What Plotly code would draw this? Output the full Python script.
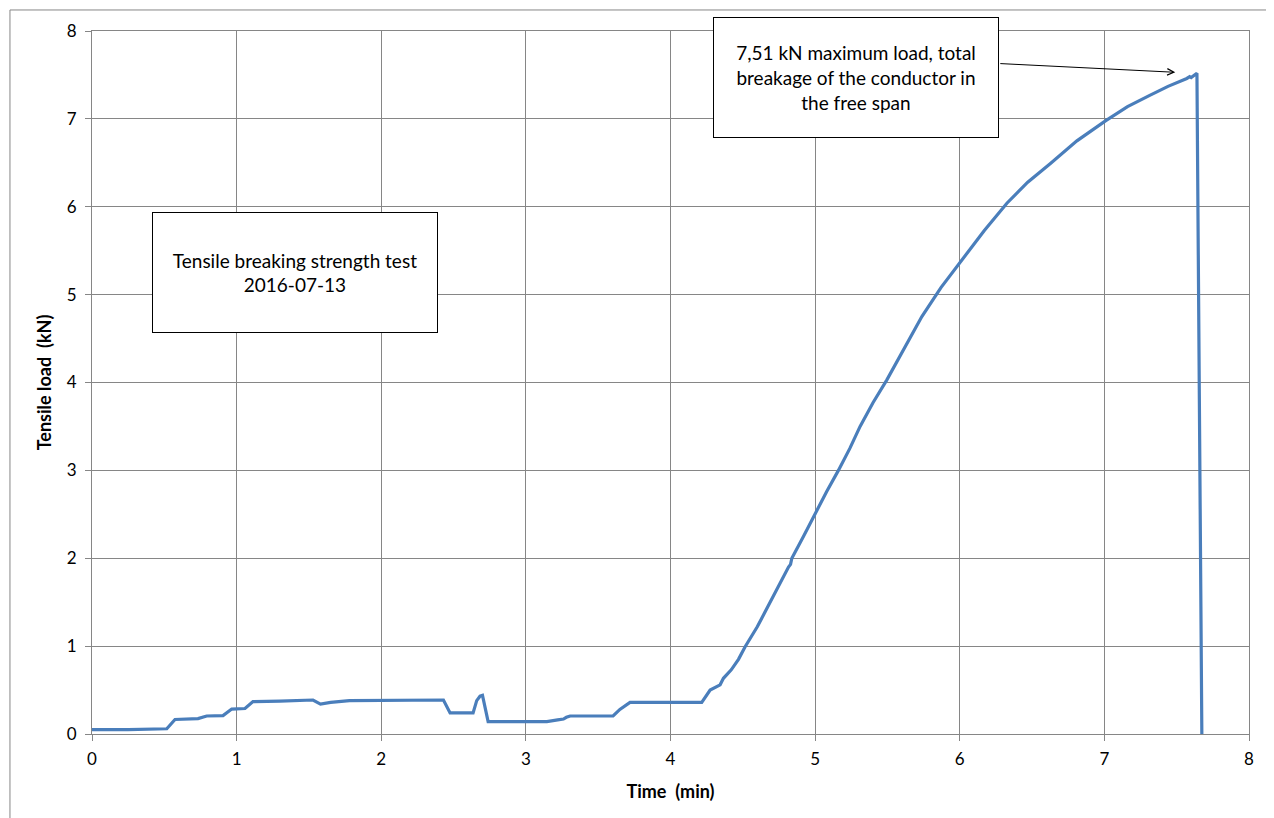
import plotly.graph_objects as go

# Data
time_min = [0, 0.25, 0.517, 0.54, 0.574, 0.733, 0.793, 0.906, 0.966, 1.058, 1.113, 1.3,
            1.528, 1.58, 1.65, 1.78, 2.0, 2.2, 2.43, 2.476, 2.635, 2.66, 2.683, 2.70, 2.72,
            2.739, 3.0, 3.145, 3.22, 3.26, 3.28, 3.306, 3.603, 3.65, 3.72, 4.0, 4.216, 4.274,
            4.343, 4.366, 4.42, 4.47, 4.516, 4.6, 4.689, 4.75, 4.816, 4.83, 4.839, 4.92, 5.0,
            5.08, 5.161, 5.24, 5.311, 5.4, 5.496, 5.62, 5.738, 5.87, 6.01, 6.17, 6.326,
            6.47, 6.625, 6.81, 7.01, 7.16, 7.317, 7.44, 7.57, 7.59, 7.6, 7.64, 7.674]
load_kn = [0.05, 0.05, 0.06, 0.1, 0.165, 0.175, 0.205, 0.21, 0.284, 0.29, 0.368, 0.375,
           0.387, 0.34, 0.36, 0.38, 0.38, 0.385, 0.387, 0.24, 0.24, 0.38, 0.43, 0.44, 0.3,
           0.14, 0.14, 0.14, 0.16, 0.17, 0.19, 0.205, 0.205, 0.28, 0.36, 0.36, 0.36, 0.5,
           0.56, 0.634, 0.73, 0.85, 0.993, 1.22, 1.505, 1.69, 1.90, 1.93, 2.0, 2.25, 2.51,
           2.76, 3.0, 3.25, 3.5, 3.77, 4.03, 4.4, 4.75, 5.08, 5.39, 5.73, 6.04,
           6.28, 6.49, 6.75, 6.98, 7.14, 7.27, 7.37, 7.46, 7.48, 7.47, 7.52, 0]

x_ticks = [0, 1, 2, 3, 4, 5, 6, 7, 8]
y_ticks = [0, 1, 2, 3, 4, 5, 6, 7, 8]

FONT = "Lato"
GRID = "#868686"

fig = go.Figure()
fig.add_trace(go.Scatter(x=time_min, y=load_kn, mode="lines",
                         line=dict(color="#4a7ebb", width=3.2), showlegend=False,
                         hoverinfo="skip"))

axis_common = dict(showgrid=True, gridcolor=GRID, gridwidth=1, showline=True,
                   linecolor=GRID, linewidth=1, mirror=True, ticks="outside",
                   ticklen=6, tickcolor=GRID, zeroline=False,
                   tickfont=dict(family=FONT, size=17, color="#000000"))

fig.update_xaxes(range=[0, 8], tickvals=x_ticks, ticklabelstandoff=4, **axis_common,
                 title=dict(text="<b>Time\u00a0\u00a0(min)</b>",
                            font=dict(family=FONT, size=18, color="#000000"), standoff=16))
fig.update_yaxes(range=[0, 8], tickvals=y_ticks, ticklabelstandoff=5, **axis_common,
                 title=dict(text="<b>Tensile load\u00a0\u00a0(kN)</b>",
                            font=dict(family=FONT, size=18, color="#000000"), standoff=10))

fig.add_annotation(x=1.404, y=5.249, xref="x", yref="y", showarrow=False,
                   text="Tensile breaking strength test<br>2016-07-13",
                   width=284, height=119, borderpad=0, borderwidth=1,
                   bordercolor="#000000", bgcolor="#ffffff", align="center",
                   font=dict(family=FONT, size=19, color="#000000"))

fig.add_annotation(x=5.283, y=7.466, xref="x", yref="y", showarrow=False,
                   text="7,51 kN maximum load, total<br>breakage of the conductor in<br>the free span",
                   width=284, height=119, borderpad=0, borderwidth=1,
                   bordercolor="#000000", bgcolor="#ffffff", align="center",
                   font=dict(family=FONT, size=19, color="#000000"))

fig.add_annotation(x=7.49, y=7.53, ax=6.27, ay=7.63, xref="x", yref="y",
                   axref="x", ayref="y", text="", showarrow=True,
                   arrowhead=5, arrowsize=1.3, arrowwidth=1, arrowcolor="#000000",
                   standoff=0, startstandoff=0)

# outer chart frame (partially visible)
fig.add_shape(type="rect", xref="paper", yref="paper",
              x0=-0.0709, x1=1.2, y0=-0.3, y1=1.0299,
              line=dict(color=GRID, width=1), layer="below")

fig.update_layout(width=1266, height=810,
                  margin=dict(l=84, r=25, t=23, b=84),
                  paper_bgcolor="#ffffff", plot_bgcolor="#ffffff",
                  font=dict(family=FONT, color="#000000"))

fig.write_html("out.html")
